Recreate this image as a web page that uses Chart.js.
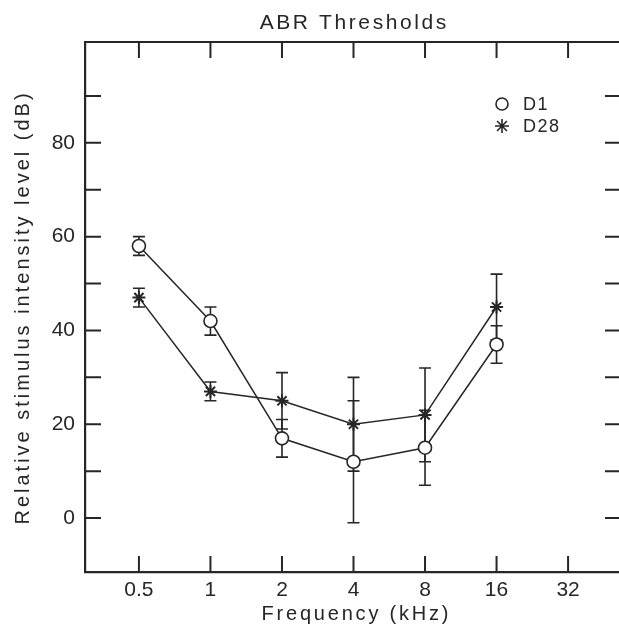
<!DOCTYPE html>
<html><head><meta charset="utf-8">
<script src="https://cdn.jsdelivr.net/npm/chart.js@4/dist/chart.umd.min.js"></script>
<style>html,body{margin:0;padding:0;background:#fff;overflow:hidden}#wrap{width:640px;height:635px}</style>
</head><body><div id="wrap"><canvas id="c" width="640" height="635"></canvas></div>
<script>
const frequencies = ['0.5', '1', '2', '4', '8', '16', '32'];
const d1Values = [58, 42, 17, 12, 15, 37];
const d1Errors = [2, 3, 4, 13, 8, 4];
const d28Values = [47, 27, 25, 20, 22, 45];
const d28Errors = [2, 2, 6, 10, 10, 7];
const yTickValues = [0, 10, 20, 30, 40, 50, 60, 70, 80, 90];
const yLabelValues = [0, 20, 40, 60, 80];
const seriesNames = ['D1', 'D28'];
const chartTitle = 'ABR Thresholds';
const xTitle = 'Frequency (kHz)';
const yTitle = 'Relative stimulus intensity level (dB)';

const INK = '#262626';
const FONT = '"Liberation Sans", Arial, sans-serif';

const toPoints = (vals, errs) => vals.map((v, i) => ({x: i, y: v, err: errs[i]}));

function spacedText(ctx, text, x, y, spacing) {
  ctx.letterSpacing = spacing + 'px';
  const w = ctx.measureText(text).width;
  ctx.textAlign = 'left';
  ctx.fillText(text, x - (w - spacing) / 2, y);
  ctx.letterSpacing = '0px';
}

const framePlugin = {
  id: 'frame',
  beforeDatasetsDraw(chart) {
    const {ctx, scales: {x, y}} = chart;
    ctx.save();
    ctx.strokeStyle = INK;
    ctx.lineWidth = 1.6;
    chart.data.datasets.forEach(ds => {
      ds.data.forEach(p => {
        const px = x.getPixelForValue(p.x);
        const top = y.getPixelForValue(p.y + p.err);
        const bot = y.getPixelForValue(p.y - p.err);
        ctx.beginPath();
        ctx.moveTo(px, top); ctx.lineTo(px, bot);
        ctx.moveTo(px - 6, top); ctx.lineTo(px + 6, top);
        ctx.moveTo(px - 6, bot); ctx.lineTo(px + 6, bot);
        ctx.stroke();
      });
    });
    ctx.restore();
  },
  afterDraw(chart) {
    const {ctx, chartArea: a, scales: {x, y}} = chart;
    ctx.save();
    ctx.strokeStyle = INK;
    ctx.lineWidth = 2.2;
    ctx.beginPath();
    ctx.moveTo(a.left, a.top); ctx.lineTo(a.right, a.top);
    ctx.moveTo(a.right, a.top); ctx.lineTo(a.right, a.bottom);
    ctx.stroke();
    ctx.lineWidth = 2;
    ctx.beginPath();
    frequencies.forEach((f, i) => {
      const px = x.getPixelForValue(i);
      ctx.moveTo(px, a.bottom); ctx.lineTo(px, a.bottom - 16);
      ctx.moveTo(px, a.top); ctx.lineTo(px, a.top + 16);
    });
    yTickValues.forEach(v => {
      const py = y.getPixelForValue(v);
      ctx.moveTo(a.left, py); ctx.lineTo(a.left + 16, py);
      ctx.moveTo(a.right, py); ctx.lineTo(a.right - 16, py);
    });
    ctx.stroke();
    ctx.fillStyle = INK;
    ctx.textBaseline = 'middle';
    // chart title
    ctx.font = '21px ' + FONT;
    spacedText(ctx, chartTitle, (a.left + a.right) / 2, 23, 2.6);
    // x title
    ctx.font = '20px ' + FONT;
    spacedText(ctx, xTitle, (a.left + a.right) / 2 + 2, 614, 2.8);
    // y title
    ctx.save();
    ctx.translate(23, (a.top + a.bottom) / 2 + 2);
    ctx.rotate(-Math.PI / 2);
    spacedText(ctx, yTitle, 0, 0, 3.0);
    ctx.restore();
    // legend
    const lx = 502, ly = [104, 126];
    ctx.lineWidth = 1.6;
    ctx.beginPath();
    ctx.arc(lx, ly[0], 6, 0, Math.PI * 2);
    ctx.stroke();
    ctx.beginPath();
    for (let k = 0; k < 4; k++) {
      const ang = k * Math.PI / 4;
      ctx.moveTo(lx - 7 * Math.cos(ang), ly[1] - 7 * Math.sin(ang));
      ctx.lineTo(lx + 7 * Math.cos(ang), ly[1] + 7 * Math.sin(ang));
    }
    ctx.stroke();
    ctx.textAlign = 'left';
    ctx.font = '18px ' + FONT;
    ctx.letterSpacing = '1.5px';
    ctx.fillText(seriesNames[0], 523, ly[0] + 1);
    ctx.fillText(seriesNames[1], 523, ly[1] + 1);
    ctx.restore();
  }
};

new Chart(document.getElementById('c'), {
  type: 'line',
  data: {
    datasets: [
      {
        label: seriesNames[0],
        data: toPoints(d1Values, d1Errors),
        borderColor: INK, borderWidth: 1.5,
        pointStyle: 'circle', pointRadius: 6.5, pointBorderWidth: 1.6,
        pointBackgroundColor: '#fff', pointBorderColor: INK,
        tension: 0
      },
      {
        label: seriesNames[1],
        data: toPoints(d28Values, d28Errors),
        borderColor: INK, borderWidth: 1.5,
        pointStyle: 'star', pointRadius: 6.5, pointBorderWidth: 2,
        pointBackgroundColor: INK, pointBorderColor: INK,
        tension: 0
      }
    ]
  },
  options: {
    responsive: false,
    animation: false,
    layout: {padding: {top: 42, right: 19, left: 0, bottom: 0}},
    plugins: {legend: {display: false}, tooltip: {enabled: false}, title: {display: false}},
    scales: {
      x: {
        type: 'linear', min: -0.754, max: 6.74,
        afterBuildTicks: s => { s.ticks = frequencies.map((f, i) => ({value: i})); },
        afterFit: s => { s.height = 63; },
        grid: {display: false, drawTicks: false},
        border: {display: true, color: INK, width: 2.2},
        ticks: {autoSkip: false, maxRotation: 0, padding: 6, color: INK, font: {family: FONT, size: 21},
          callback: v => frequencies[v]},
        title: {display: false}
      },
      y: {
        type: 'linear', min: -11.5, max: 101.5,
        afterBuildTicks: s => { s.ticks = yTickValues.map(v => ({value: v})); },
        afterFit: s => { s.width = 85; },
        grid: {display: false, drawTicks: false},
        border: {display: true, color: INK, width: 2.2},
        ticks: {autoSkip: false, padding: 10, color: INK, font: {family: FONT, size: 21},
          callback: v => yLabelValues.includes(v) ? String(v) : ''},
        title: {display: false}
      }
    }
  },
  plugins: [framePlugin]
});
</script>
</body></html>
